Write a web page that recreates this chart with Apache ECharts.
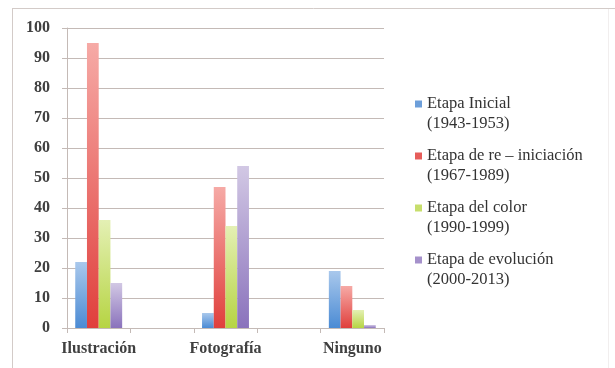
<!DOCTYPE html>
<html>
<head>
<meta charset="utf-8">
<script src="https://cdn.jsdelivr.net/npm/echarts@6/dist/echarts.min.js"></script>
<style>
  html, body { margin: 0; padding: 0; background: #ffffff; }
  #chart { width: 615px; height: 368px; }
</style>
</head>
<body>
<div id="chart"></div>
<script>
// Categories shown on the horizontal axis (an empty slot sits between each pair)
const categories = ['Ilustración', 'Fotografía', 'Ninguno'];

// Stage names for the legend
const seriesNames = [
  'Etapa Inicial\n(1943-1953)',
  'Etapa de re – iniciación\n(1967-1989)',
  'Etapa del color\n(1990-1999)',
  'Etapa de evolución\n(2000-2013)'
];

// Values per stage, one per category
const etapaInicial   = [22, 5, 19];
const etapaReinicio  = [95, 47, 14];
const etapaColor     = [36, 34, 6];
const etapaEvolucion = [15, 54, 1];

// Value-axis tick labels
const yTicks = [0, 10, 20, 30, 40, 50, 60, 70, 80, 90, 100];

const seriesValues = [etapaInicial, etapaReinicio, etapaColor, etapaEvolucion];

// Bar colours: [top, bottom, legend swatch]
const palette = [
  ['#a9c8ec', '#4b8bd4', '#6d9fda'],
  ['#f6aaa6', '#e03f3c', '#e65d5a'],
  ['#e4f0b4', '#b6d443', '#c7de6c'],
  ['#d2c8e4', '#8a72bc', '#a591cb']
];

// Spread the categories over five slots, leaving a blank slot between them
const axisData = [];
categories.forEach((c, i) => {
  if (i > 0) axisData.push('');
  axisData.push(c);
});
function spread(values) {
  const out = [];
  values.forEach((v, i) => {
    if (i > 0) out.push(null);
    out.push(v);
  });
  return out;
}

const serif = '"Liberation Serif", "DejaVu Serif", serif';
const lineColor = '#c4bab6';

const chart = echarts.init(document.getElementById('chart'), null, { renderer: 'canvas' });

chart.setOption({
  backgroundColor: '#ffffff',
  animation: false,
  graphic: [
    { type: 'line', shape: { x1: 12, y1: 8.5, x2: 615, y2: 8.5 }, style: { stroke: '#d3cbc8', lineWidth: 1 }, silent: true },
    { type: 'line', shape: { x1: 12.5, y1: 8, x2: 12.5, y2: 368 }, style: { stroke: '#d3cbc8', lineWidth: 1 }, silent: true },
    { type: 'line', shape: { x1: 608.5, y1: 9, x2: 608.5, y2: 368 }, style: { stroke: '#f1eeee', lineWidth: 1 }, silent: true }
  ],
  grid: { left: 67, right: 231, top: 28, bottom: 40, containLabel: false },
  legend: {
    orient: 'vertical',
    left: 415,
    top: 74,
    padding: 0,
    itemWidth: 7,
    itemHeight: 7,
    itemGap: -8,
    icon: 'rect',
    // blank first line keeps the swatch level with the stage name
    formatter: name => '\n' + name,
    data: seriesNames.map((n, i) => ({ name: n, itemStyle: { color: palette[i][2] } })),
    textStyle: {
      fontFamily: serif,
      fontSize: 16.5,
      color: '#333333',
      lineHeight: 20
    }
  },
  xAxis: {
    type: 'category',
    data: axisData,
    boundaryGap: true,
    axisLine: { show: true, lineStyle: { color: lineColor, width: 1 } },
    axisTick: { show: true, length: 5, lineStyle: { color: lineColor } },
    axisLabel: {
      interval: 0,
      margin: 13,
      fontFamily: serif,
      fontWeight: 'bold',
      fontSize: 16,
      color: '#404040'
    },
    splitLine: { show: false }
  },
  yAxis: {
    type: 'value',
    min: yTicks[0],
    max: yTicks[yTicks.length - 1],
    interval: yTicks[1] - yTicks[0],
    axisLine: { show: true, lineStyle: { color: lineColor, width: 1 } },
    axisTick: { show: true, length: 5, lineStyle: { color: lineColor } },
    axisLabel: {
      margin: 17,
      fontFamily: serif,
      fontWeight: 'bold',
      fontSize: 16,
      color: '#404040'
    },
    splitLine: { show: true, lineStyle: { color: lineColor, width: 1 } }
  },
  series: seriesValues.map((vals, i) => ({
    name: seriesNames[i],
    type: 'bar',
    data: spread(vals),
    barGap: '0%',
    barCategoryGap: '26%',
    itemStyle: {
      color: new echarts.graphic.LinearGradient(0, 0, 0, 1, [
        { offset: 0, color: palette[i][0] },
        { offset: 1, color: palette[i][1] }
      ])
    }
  }))
});
</script>
</body>
</html>
